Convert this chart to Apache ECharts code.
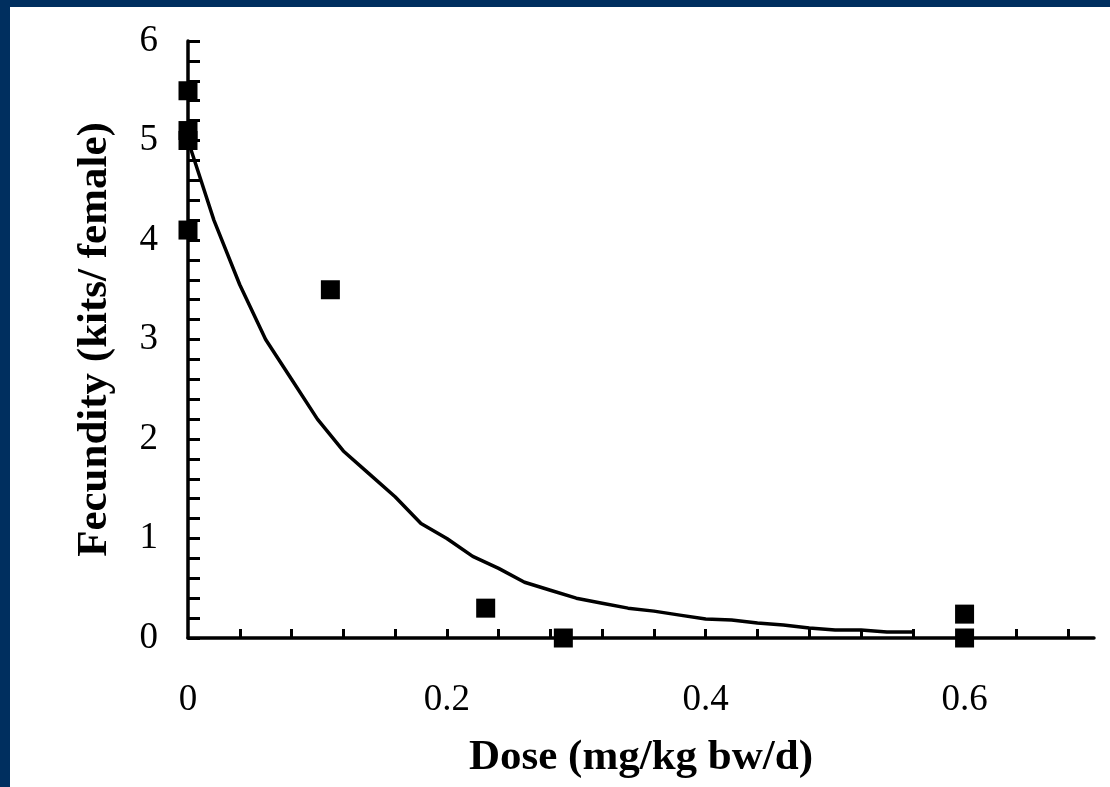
<!DOCTYPE html>
<html>
<head>
<meta charset="utf-8">
<script src="https://cdn.jsdelivr.net/npm/echarts@6/dist/echarts.min.js"></script>
<style>
  html, body { margin: 0; padding: 0; background: #ffffff; }
  #chart { position: absolute; left: 0; top: 0; width: 1110px; height: 787px; }
  .bar { position: absolute; background: #002f5f; pointer-events: none; }
</style>
</head>
<body>
<div id="chart"></div>
<div class="bar" style="left:0;top:0;width:1110px;height:7px;"></div>
<div class="bar" style="left:0;top:0;width:10px;height:787px;"></div>
<script>
// Observed data points: dose (mg/kg bw/d) and fecundity (kits/female)
const obsDose = [0, 0, 0, 0, 0.11, 0.23, 0.29, 0.60, 0.60];
const obsFecundity = [5.50, 5.10, 5.00, 4.10, 3.50, 0.30, 0.00, 0.24, 0.00];

// Fitted curve
const fitDose = [0, 0.01, 0.02, 0.04, 0.06, 0.08, 0.10, 0.12, 0.14, 0.16, 0.18, 0.20,
  0.22, 0.24, 0.26, 0.28, 0.30, 0.32, 0.34, 0.36, 0.38, 0.40, 0.42, 0.44, 0.46, 0.48,
  0.50, 0.52, 0.54, 0.56];
const fitFecundity = [5.0, 4.6, 4.2, 3.55, 3.0, 2.6, 2.2, 1.88, 1.65, 1.42, 1.15, 1.0,
  0.82, 0.7, 0.56, 0.48, 0.40, 0.35, 0.30, 0.27, 0.23, 0.19, 0.18, 0.15, 0.13, 0.10,
  0.08, 0.08, 0.06, 0.06];

// Axis tick values
const xLabelValues = [0, 0.2, 0.4, 0.6];
const xTickValues = [0.04, 0.08, 0.12, 0.16, 0.2, 0.24, 0.28, 0.32, 0.36, 0.4, 0.44,
  0.48, 0.52, 0.56, 0.6, 0.64, 0.68];

const xTitle = 'Dose (mg/kg bw/d)';
const yTitle = 'Fecundity (kits/ female)';

const chart = echarts.init(document.getElementById('chart'), null, { renderer: 'canvas' });
const font = 'Liberation Serif';

chart.setOption({
  backgroundColor: 'transparent',
  animation: false,
  grid: { left: 188, top: 41, width: 906, height: 597, containLabel: false },
  xAxis: {
    type: 'value',
    min: 0,
    max: 0.7,
    name: xTitle,
    nameLocation: 'middle',
    nameGap: 98,
    nameTextStyle: { fontFamily: font, fontWeight: 'bold', fontSize: 43, color: '#000' },
    axisLine: { show: true, onZero: false, lineStyle: { color: '#000', width: 3.5 } },
    axisTick: { show: true, inside: true, length: 9, customValues: xTickValues,
      lineStyle: { color: '#000', width: 3 } },
    axisLabel: { customValues: xLabelValues, margin: 44, fontFamily: font, fontSize: 37, color: '#000',
      formatter: v => String(v) },
    splitLine: { show: false }
  },
  yAxis: {
    type: 'value',
    min: 0,
    max: 6,
    interval: 1,
    name: yTitle,
    nameLocation: 'middle',
    nameRotate: 90,
    nameGap: 72,
    nameTextStyle: { fontFamily: font, fontWeight: 'bold', fontSize: 43, color: '#000' },
    axisLine: { show: true, onZero: false, lineStyle: { color: '#000', width: 3.5 } },
    axisTick: { show: true, inside: true, length: 12, lineStyle: { color: '#000', width: 3 } },
    minorTick: { show: true, splitNumber: 5, length: 12, lineStyle: { color: '#000', width: 3 } },
    axisLabel: { margin: 30, fontFamily: font, fontSize: 37, color: '#000' },
    splitLine: { show: false },
    minorSplitLine: { show: false }
  },
  series: [
    {
      type: 'line',
      data: fitDose.map((d, i) => [d, fitFecundity[i]]),
      showSymbol: false,
      symbol: 'none',
      lineStyle: { color: '#000', width: 3.5 },
      z: 2
    },
    {
      type: 'scatter',
      data: obsDose.map((d, i) => [d, obsFecundity[i]]),
      symbol: 'rect',
      symbolSize: 19,
      itemStyle: { color: '#000', opacity: 1 },
      z: 3
    }
  ]
});
</script>
</body>
</html>
